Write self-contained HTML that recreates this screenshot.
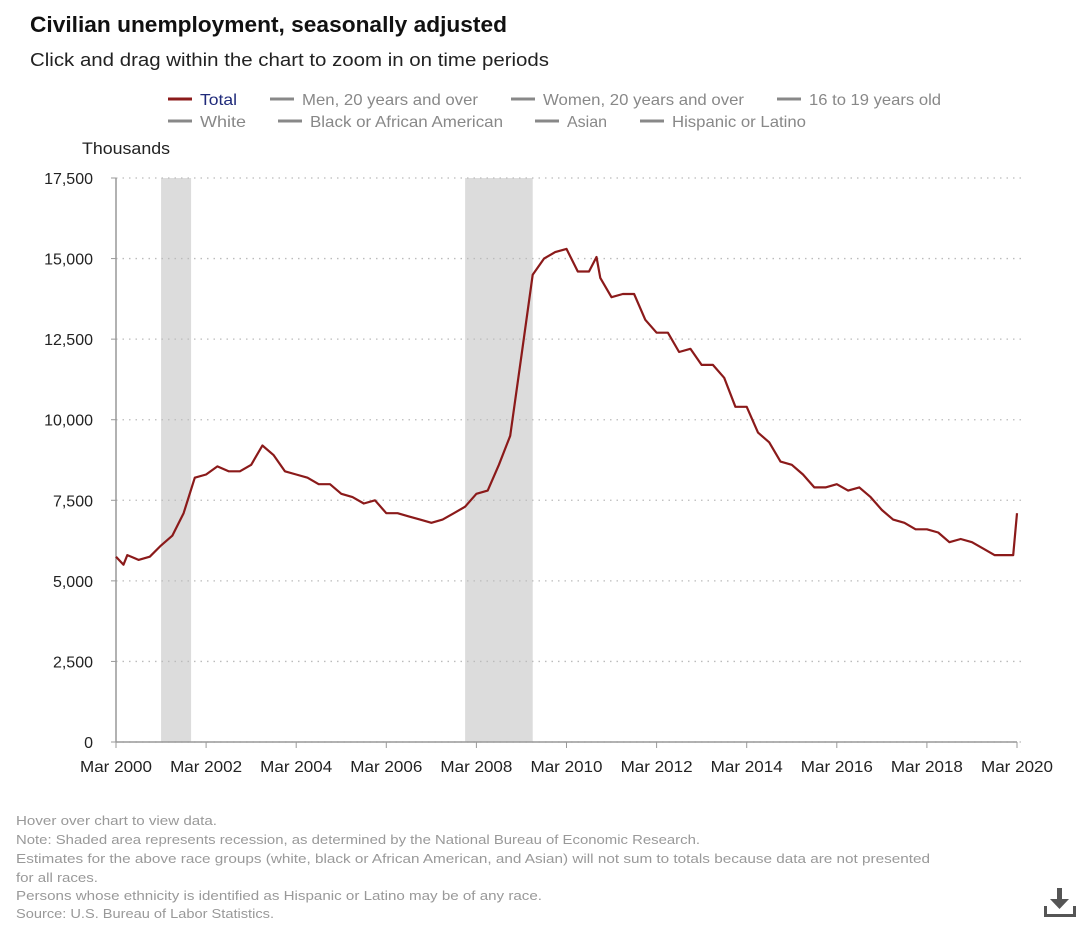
<!DOCTYPE html>
<html><head><meta charset="utf-8"><style>
body{margin:0;background:#fff;font-family:"Liberation Sans",sans-serif}
svg text{font-family:"Liberation Sans",sans-serif}
</style></head><body>
<svg id="chart" width="1080" height="926" xmlns="http://www.w3.org/2000/svg">
<text x="30" y="32" font-size="22" font-weight="bold" fill="#111" textLength="477" lengthAdjust="spacingAndGlyphs">Civilian unemployment, seasonally adjusted</text>
<text x="30" y="66" font-size="18" fill="#222" textLength="519" lengthAdjust="spacingAndGlyphs">Click and drag within the chart to zoom in on time periods</text>
<g font-size="16">
<g><line x1="168" y1="99" x2="192" y2="99" stroke="#8b1a1a" stroke-width="3"/><text x="200" y="105" fill="#1f2a7a" textLength="37" lengthAdjust="spacingAndGlyphs">Total</text></g>
<g><line x1="270" y1="99" x2="294" y2="99" stroke="#888" stroke-width="3"/><text x="302" y="105" fill="#888" textLength="176" lengthAdjust="spacingAndGlyphs">Men, 20 years and over</text></g>
<g><line x1="511" y1="99" x2="535" y2="99" stroke="#888" stroke-width="3"/><text x="543" y="105" fill="#888" textLength="201" lengthAdjust="spacingAndGlyphs">Women, 20 years and over</text></g>
<g><line x1="777" y1="99" x2="801" y2="99" stroke="#888" stroke-width="3"/><text x="809" y="105" fill="#888" textLength="132" lengthAdjust="spacingAndGlyphs">16 to 19 years old</text></g>
<g><line x1="168" y1="121" x2="192" y2="121" stroke="#888" stroke-width="3"/><text x="200" y="127" fill="#888" textLength="46" lengthAdjust="spacingAndGlyphs">White</text></g>
<g><line x1="278" y1="121" x2="302" y2="121" stroke="#888" stroke-width="3"/><text x="310" y="127" fill="#888" textLength="193" lengthAdjust="spacingAndGlyphs">Black or African American</text></g>
<g><line x1="535" y1="121" x2="559" y2="121" stroke="#888" stroke-width="3"/><text x="567" y="127" fill="#888" textLength="40" lengthAdjust="spacingAndGlyphs">Asian</text></g>
<g><line x1="640" y1="121" x2="664" y2="121" stroke="#888" stroke-width="3"/><text x="672" y="127" fill="#888" textLength="134" lengthAdjust="spacingAndGlyphs">Hispanic or Latino</text></g>
</g>
<text x="82" y="154" font-size="16.5" fill="#222" textLength="88" lengthAdjust="spacingAndGlyphs">Thousands</text>
<g id="plot"></g>
<g font-size="13" fill="#999">
<text x="16" y="825" textLength="201" lengthAdjust="spacingAndGlyphs">Hover over chart to view data.</text>
<text x="16" y="844" textLength="684" lengthAdjust="spacingAndGlyphs">Note: Shaded area represents recession, as determined by the National Bureau of Economic Research.</text>
<text x="16" y="863" textLength="914" lengthAdjust="spacingAndGlyphs">Estimates for the above race groups (white, black or African American, and Asian) will not sum to totals because data are not presented</text>
<text x="16" y="882" textLength="82" lengthAdjust="spacingAndGlyphs">for all races.</text>
<text x="16" y="900" textLength="526" lengthAdjust="spacingAndGlyphs">Persons whose ethnicity is identified as Hispanic or Latino may be of any race.</text>
<text x="16" y="918" textLength="258" lengthAdjust="spacingAndGlyphs">Source: U.S. Bureau of Labor Statistics.</text>
</g>
<g fill="#555">
<rect x="1057" y="888" width="5" height="14"/><polygon points="1050,899 1069,899 1059.5,909"/>
<rect x="1044" y="914" width="32" height="3"/><rect x="1044" y="906" width="3" height="10"/><rect x="1073" y="906" width="3" height="10"/>
</g>
</svg>
<script>
// months since Mar 2000
const months = [0,2,3,5,6,9,12,15,18,21,24,27,30,33,36,39,42,45,48,51,54,57,60,63,66,69,72,75,78,81,84,87,90,93,96,99,102,105,108,111,114,117,120,123,126,128,129,132,135,138,141,144,147,150,153,156,159,162,165,168,171,174,177,180,183,186,189,192,195,198,201,204,207,210,213,216,219,222,225,228,231,234,237,239,240];
const values = [5750,5500,5800,5700,5650,5750,6100,6400,7100,8200,8300,8550,8400,8400,8600,9200,8900,8400,8300,8200,8000,8000,7700,7600,7400,7500,7100,7100,7000,6900,6800,6900,7100,7300,7700,7800,8600,9500,12000,14500,15000,15200,15300,14600,14600,15050,14400,13800,13900,13900,13100,12700,12700,12100,12200,11700,11700,11300,10400,10400,9600,9300,8700,8600,8300,7900,7900,8000,7800,7900,7600,7200,6900,6800,6600,6600,6500,6200,6300,6200,6000,5800,5800,5800,7100];
const yTicks = [0,2500,5000,7500,10000,12500,15000,17500];
const xTickLabels = ["Mar 2000","Mar 2002","Mar 2004","Mar 2006","Mar 2008","Mar 2010","Mar 2012","Mar 2014","Mar 2016","Mar 2018","Mar 2020"];
const xTickMonths = [0,24,48,72,96,120,144,168,192,216,240];
const recessionStarts = [12,93];
const recessionEnds = [20,111];

const NS="http://www.w3.org/2000/svg";
const X0=116,X1=1017,Y0=742,Y1=178;
const x=m=>X0+(X1-X0)*m/240;
const y=v=>Y0-(Y0-Y1)*v/17500;
const plot=document.getElementById('plot');
function mk(t,a){const e=document.createElementNS(NS,t);for(const k in a)e.setAttribute(k,a[k]);plot.appendChild(e);return e;}
recessionStarts.forEach((s,i)=>{
 const r=mk('rect',{x:x(s),y:Y1,width:x(recessionEnds[i])-x(s),height:Y0-Y1,fill:'#dcdcdc'});
 
 
});
yTicks.forEach(v=>{
 const l=mk('line',{x1:X0,x2:X1+4,y1:y(v),y2:y(v),stroke:'#bbb','stroke-dasharray':'1.5 5','stroke-width':1.3});
 
 
 const tk=mk('line',{x1:X0-5,x2:X0,y1:y(v),y2:y(v),stroke:'#999'});
 
 
 const t=mk('text',{x:X0-23,y:y(v)+6,'text-anchor':'end','font-size':16,fill:'#222'});
 t.textContent=v.toLocaleString('en-US');
 
 
});
const ax=mk('line',{x1:X0,x2:X0,y1:Y1,y2:Y0,stroke:'#999','stroke-width':1.5});


const bx=mk('line',{x1:X0,x2:X1,y1:Y0,y2:Y0,stroke:'#999','stroke-width':1.5});


xTickMonths.forEach((m,i)=>{
 const tk=mk('line',{x1:x(m),x2:x(m),y1:Y0,y2:Y0+6,stroke:'#999'});
 
 
 const t=mk('text',{x:x(m),y:Y0+30,'text-anchor':'middle','font-size':16,fill:'#222',textLength:72,lengthAdjust:'spacingAndGlyphs'});
 t.textContent=xTickLabels[i];
 
 
});
const p=mk('path',{d:months.map((m,i)=>(i?'L':'M')+x(m).toFixed(1)+','+y(values[i]).toFixed(1)).join(''),fill:'none',stroke:'#8b1a1a','stroke-width':2.2,'stroke-linejoin':'round'});


</script>
</body></html>
